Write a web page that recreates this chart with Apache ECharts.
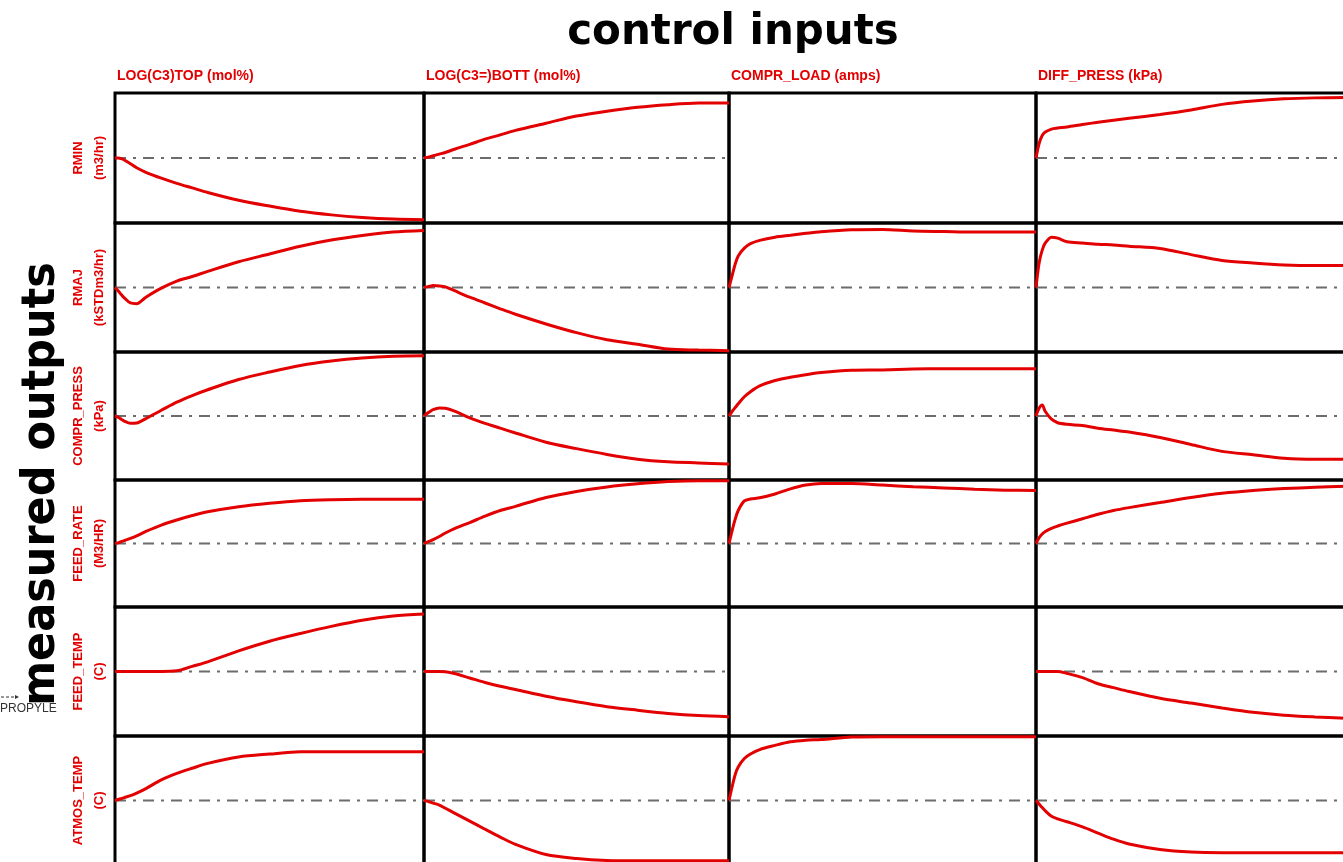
<!DOCTYPE html>
<html>
<head>
<meta charset="utf-8">
<script src="https://cdn.jsdelivr.net/npm/echarts@6/dist/echarts.min.js"></script>
<style>
  html, body { margin: 0; padding: 0; background: #fff; overflow: hidden; }
  /* the matrix runs slightly past the window's right and bottom edges */
  #chart { width: 1352px; height: 870px; }
</style>
</head>
<body>
<div id="chart"></div>
<script>
// Step-response matrix: each manipulated input (columns) against each measured output (rows).
const inputs = ['LOG(C3)TOP (mol%)', 'LOG(C3=)BOTT (mol%)', 'COMPR_LOAD (amps)', 'DIFF_PRESS (kPa)'];
const outputs = ['RMIN', 'RMAJ', 'COMPR_PRESS', 'FEED_RATE', 'FEED_TEMP', 'ATMOS_TEMP'];
const outputUnits = ['(m3/hr)', '(kSTDm3/hr)', '(kPa)', '(M3/HR)', '(C)', '(C)'];

// time after the step, % of the prediction horizon
const T = [0, 1, 2, 3, 5, 7, 10, 15, 20, 25, 30, 40, 50, 60, 70, 80, 90, 100];

// normalised responses, one curve per input; null = no model for that pair
const rminResp = [
  [0, 0, -0.01, -0.03, -0.09, -0.15, -0.22, -0.31, -0.39, -0.46, -0.53, -0.65, -0.74, -0.82, -0.875, -0.915, -0.94, -0.95],
  [0, 0.01, 0.02, 0.035, 0.06, 0.085, 0.135, 0.21, 0.29, 0.355, 0.425, 0.535, 0.645, 0.72, 0.78, 0.82, 0.845, 0.846],
  null,
  [0, 0.22, 0.345, 0.40, 0.445, 0.46, 0.477, 0.515, 0.55, 0.58, 0.61, 0.67, 0.74, 0.825, 0.877, 0.91, 0.925, 0.93]
];
const rmajResp = [
  [0, -0.05, -0.11, -0.16, -0.24, -0.25, -0.15, -0.01, 0.10, 0.17, 0.25, 0.40, 0.52, 0.64, 0.735, 0.805, 0.86, 0.885],
  [0, 0.01, 0.02, 0.03, 0.025, 0.01, -0.05, -0.15, -0.24, -0.33, -0.415, -0.565, -0.70, -0.81, -0.88, -0.955, -0.97, -0.98],
  [0, 0.18, 0.36, 0.49, 0.61, 0.68, 0.73, 0.78, 0.81, 0.84, 0.865, 0.895, 0.90, 0.877, 0.868, 0.86, 0.86, 0.86],
  [0, 0.38, 0.58, 0.69, 0.78, 0.765, 0.71, 0.69, 0.67, 0.66, 0.64, 0.605, 0.51, 0.42, 0.38, 0.35, 0.34, 0.34]
];
const comprPressResp = [
  [0, -0.02, -0.05, -0.08, -0.115, -0.11, -0.04, 0.09, 0.216, 0.32, 0.41, 0.57, 0.687, 0.79, 0.86, 0.907, 0.933, 0.94],
  [0, 0.04, 0.07, 0.10, 0.125, 0.12, 0.075, -0.03, -0.116, -0.19, -0.265, -0.41, -0.51, -0.60, -0.675, -0.716, -0.733, -0.75],
  [0, 0.07, 0.13, 0.19, 0.30, 0.38, 0.47, 0.555, 0.605, 0.645, 0.68, 0.715, 0.72, 0.735, 0.74, 0.74, 0.74, 0.74],
  [0, 0.12, 0.17, 0.07, -0.05, -0.105, -0.13, -0.15, -0.19, -0.22, -0.25, -0.335, -0.445, -0.553, -0.606, -0.66, -0.675, -0.675]
];
const feedRateResp = [
  [0, 0.01, 0.03, 0.045, 0.08, 0.12, 0.19, 0.29, 0.37, 0.44, 0.50, 0.58, 0.635, 0.675, 0.69, 0.695, 0.695, 0.695],
  [0, 0.02, 0.04, 0.06, 0.11, 0.165, 0.235, 0.33, 0.43, 0.52, 0.585, 0.725, 0.82, 0.89, 0.94, 0.975, 0.99, 0.99],
  [0, 0.20, 0.38, 0.52, 0.67, 0.70, 0.72, 0.78, 0.86, 0.92, 0.945, 0.945, 0.92, 0.895, 0.875, 0.855, 0.84, 0.835],
  [0, 0.09, 0.15, 0.19, 0.24, 0.275, 0.32, 0.39, 0.46, 0.52, 0.565, 0.645, 0.725, 0.79, 0.835, 0.865, 0.885, 0.90]
];
const feedTempResp = [
  [0, 0, 0, 0, 0, 0, 0, 0, 0.01, 0.08, 0.15, 0.32, 0.47, 0.59, 0.70, 0.795, 0.86, 0.89],
  [0, 0, 0, 0, 0, -0.002, -0.032, -0.10, -0.17, -0.23, -0.28, -0.385, -0.47, -0.545, -0.60, -0.65, -0.684, -0.70],
  null,
  [0, 0, 0, 0, 0, 0, -0.03, -0.095, -0.19, -0.25, -0.31, -0.415, -0.49, -0.565, -0.632, -0.678, -0.705, -0.725]
];
const atmosTempResp = [
  [0, 0.015, 0.03, 0.045, 0.075, 0.115, 0.185, 0.32, 0.42, 0.50, 0.575, 0.675, 0.72, 0.755, 0.756, 0.756, 0.756, 0.756],
  [0, -0.01, -0.025, -0.04, -0.07, -0.12, -0.195, -0.32, -0.445, -0.567, -0.68, -0.838, -0.90, -0.93, -0.935, -0.935, -0.935, -0.935],
  [0, 0.21, 0.40, 0.52, 0.65, 0.72, 0.79, 0.855, 0.91, 0.935, 0.945, 0.985, 0.99, 0.99, 0.99, 0.99, 0.99, 0.99],
  [0, -0.055, -0.11, -0.16, -0.245, -0.285, -0.33, -0.41, -0.505, -0.60, -0.675, -0.76, -0.80, -0.81, -0.81, -0.81, -0.81, -0.81]
];
const responses = [rminResp, rmajResp, comprPressResp, feedRateResp, feedTempResp, atmosTempResp];

// panel layout (pixel edges of the matrix cells)
const COL_EDGES = [115, 424, 729, 1036, 1346];
const ROW_EDGES = [93, 223, 352, 480, 607, 736, 865];

const RED = '#e20000';
const grids = [], xAxes = [], yAxes = [], series = [];

outputs.forEach((out, r) => {
  inputs.forEach((inp, c) => {
    const idx = grids.length;
    grids.push({
      left: COL_EDGES[c], top: ROW_EDGES[r],
      width: COL_EDGES[c + 1] - COL_EDGES[c], height: ROW_EDGES[r + 1] - ROW_EDGES[r],
      show: true, borderColor: '#000', borderWidth: 3, backgroundColor: 'transparent'
    });
    xAxes.push({ gridIndex: idx, type: 'value', min: 0, max: 100, show: false });
    yAxes.push({ gridIndex: idx, type: 'value', min: -1, max: 1, show: false });
    const curve = responses[r][c];
    if (!curve) return;
    series.push({
      name: out + ' / ' + inp + ' base', type: 'line', xAxisIndex: idx, yAxisIndex: idx,
      data: [[T[0], 0], [T[T.length - 1], 0]], symbol: 'none', silent: true, z: 2,
      lineStyle: { color: '#6c6c6c', width: 2, type: [11, 7, 3, 7] }
    });
    series.push({
      name: out + ' / ' + inp, type: 'line', xAxisIndex: idx, yAxisIndex: idx,
      data: T.map((t, i) => [t, curve[i]]), smooth: 0.3, symbol: 'none', clip: false, z: 4,
      lineStyle: { color: RED, width: 3 }
    });
  });
});

const graphic = [];
// main headings
graphic.push({
  type: 'text', x: 733, y: 33, z: 20,
  style: { text: 'control inputs', font: 'bold 42px "DejaVu Sans"', fill: '#000',
           align: 'center', verticalAlign: 'middle', textAlign: 'center', textVerticalAlign: 'middle' }
});
// stray legend fragment at the left edge
graphic.push({
  type: 'text', x: 0, y: 709, z: 5,
  style: { text: 'PROPYLE', font: '12px "Liberation Sans"', fill: '#333',
           align: 'left', verticalAlign: 'middle', textAlign: 'left', textVerticalAlign: 'middle' }
});
graphic.push({ type: 'line', z: 5, shape: { x1: 1, y1: 697, x2: 16, y2: 697 },
  style: { stroke: '#333', lineWidth: 1, lineDash: [3, 2] } });
graphic.push({ type: 'polygon', z: 5, shape: { points: [[15, 695], [19, 697], [15, 699]] },
  style: { fill: '#333' } });
graphic.push({
  type: 'text', x: 42, y: 484, rotation: Math.PI / 2, scaleX: 0.915, z: 20,
  style: { text: 'measured outputs', font: 'bold 47px "DejaVu Sans"', fill: '#000',
           align: 'center', verticalAlign: 'middle', textAlign: 'center', textVerticalAlign: 'middle' }
});
// input headers
inputs.forEach((inp, c) => {
  graphic.push({
    type: 'text', x: COL_EDGES[c] + 2, y: 76, z: 10,
    style: { text: inp, font: 'bold 14px "Liberation Sans"', fill: RED,
             align: 'left', verticalAlign: 'middle', textAlign: 'left', textVerticalAlign: 'middle' }
  });
});
// output labels (rotated)
outputs.forEach((out, r) => {
  const cy = (ROW_EDGES[r] + ROW_EDGES[r + 1]) / 2;
  graphic.push({
    type: 'text', x: 78, y: cy, rotation: Math.PI / 2, z: 10,
    style: { text: out, font: 'bold 13px "Liberation Sans"', fill: RED,
             align: 'center', verticalAlign: 'middle', textAlign: 'center', textVerticalAlign: 'middle' }
  });
  graphic.push({
    type: 'text', x: 99, y: cy, rotation: Math.PI / 2, z: 10,
    style: { text: outputUnits[r], font: 'bold 13px "Liberation Sans"', fill: RED,
             align: 'center', verticalAlign: 'middle', textAlign: 'center', textVerticalAlign: 'middle' }
  });
});

const chart = echarts.init(document.getElementById('chart'), null, { renderer: 'canvas' });
chart.setOption({
  backgroundColor: '#fff',
  animation: false,
  grid: grids,
  xAxis: xAxes,
  yAxis: yAxes,
  series: series,
  graphic: graphic
});
</script>
</body>
</html>
